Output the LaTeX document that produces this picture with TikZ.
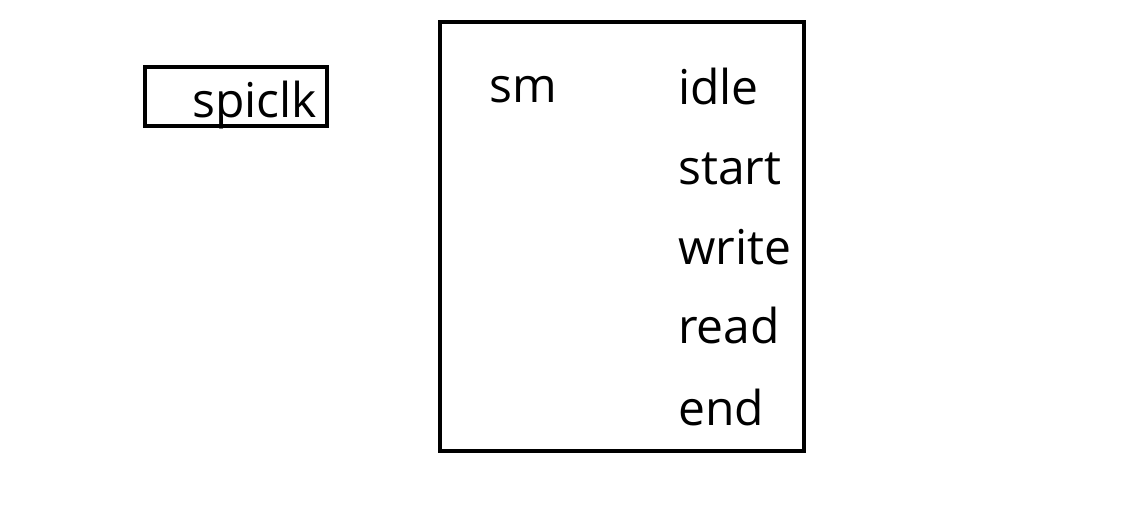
\documentclass[tikz,border=0pt]{standalone}
\usepackage{fontspec}
\setmainfont{Open Sans}
\begin{document}
\begin{tikzpicture}[x=1pt,y=-1pt,
  frame/.style={draw=black,line width=4pt},
  lbl/.style={anchor=base west,inner sep=0pt,font=\fontsize{48}{54}\selectfont}]
\useasboundingbox (0,0) rectangle (1138,526);
\draw[frame] (145,67) rectangle (327,126);
\node[lbl] (spiclk) at (192,118) {spiclk};
\draw[frame] (440,22) rectangle (804,451);
\node[lbl] (sm) at (489,103) {sm};
\node[lbl] (idle) at (678,105) {idle};
\node[lbl] (start) at (678,185) {start};
\node[lbl] (write) at (678,265) {write};
\node[lbl] (read) at (678,344) {read};
\node[lbl] (end) at (678,425) {end};
\end{tikzpicture}
\end{document}
